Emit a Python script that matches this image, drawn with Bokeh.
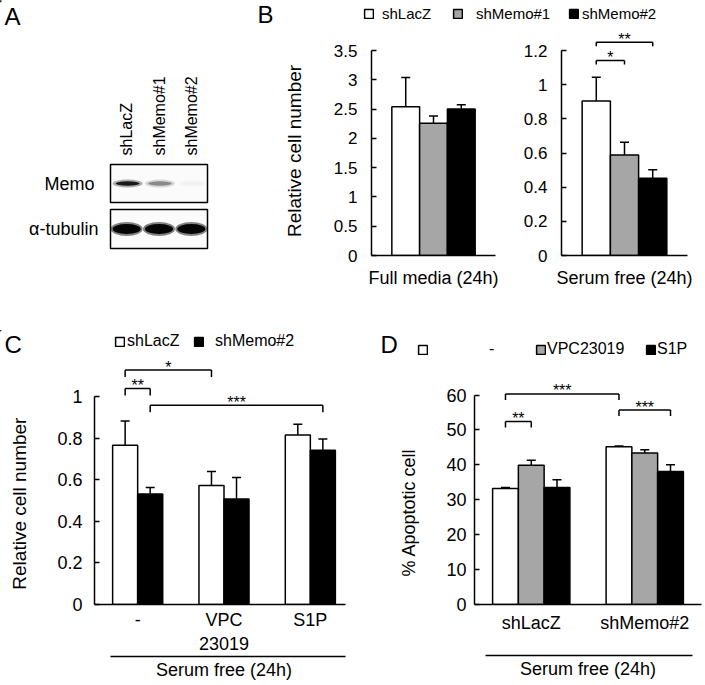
import math
from bokeh.plotting import figure
from bokeh.models import (ColumnDataSource, FactorRange, Range1d, CategoricalAxis,
                          FixedTicker, CustomJSTickFormatter, Whisker, TeeHead,
                          Legend, LegendItem)
from bokeh.transform import dodge
from bokeh.layouts import row, column
from bokeh.embed import file_html
from bokeh.resources import INLINE
from bokeh.core.properties import value

FONT = "Liberation Sans"
NB = "\u00a0"

# ---------------- data ----------------
# Panel A (western blot)
lanes = ["shLacZ", "shMemo#1", "shMemo#2"]
memo_intensity = [0.95, 0.40, 0.03]
tubulin_intensity = [1.0, 1.0, 1.0]

# Panel B
b_series = ["shLacZ", "shMemo#1", "shMemo#2"]
b_colors = ["white", "#a6a6a6", "black"]
b_full_label = ["Full media (24h)"]
b_full_mean = [2.54, 2.26, 2.50]
b_full_err = [0.50, 0.12, 0.075]
b_serum_label = ["Serum free (24h)"]
b_serum_mean = [0.905, 0.588, 0.452]
b_serum_err = [0.138, 0.075, 0.050]
b_full_ticks = [0, 0.5, 1, 1.5, 2, 2.5, 3, 3.5]
b_serum_ticks = [0, 0.2, 0.4, 0.6, 0.8, 1, 1.2]
b_sig_a = [0, 0]
b_sig_b = [1, 2]
b_sig_y = [1.142, 1.249]
b_sig_txt = ["*", "**"]

# Panel C
c_treat = ["-", "VPC\n23019", "S1P"]
c_series = ["shLacZ", "shMemo#2"]
c_colors = ["white", "black"]
c_lacz_mean = [0.766, 0.572, 0.815]
c_lacz_err = [0.116, 0.067, 0.052]
c_memo2_mean = [0.531, 0.507, 0.742]
c_memo2_err = [0.032, 0.104, 0.054]
c_ticks = [0, 0.2, 0.4, 0.6, 0.8, 1]
c_sig_a = [(0, 0), (0, 0), (0, 1)]
c_sig_b = [(0, 1), (1, 0), (2, 1)]
c_sig_y = [1.039, 1.127, 0.958]
c_sig_txt = ["**", "*", "***"]

# Panel D
d_cells = ["shLacZ", "shMemo#2"]
d_series = ["-", "VPC23019", "S1P"]
d_colors = ["white", "#a6a6a6", "black"]
d_none_mean = [33.2, 45.2]
d_none_err = [0.3, 0.2]
d_vpc_mean = [39.9, 43.4]
d_vpc_err = [1.4, 0.9]
d_s1p_mean = [33.5, 38.1]
d_s1p_err = [2.2, 1.9]
d_ticks = [0, 10, 20, 30, 40, 50, 60]
d_sig_a = [(0, 0), (0, 0), (1, 0)]
d_sig_b = [(0, 1), (1, 0), (1, 2)]
d_sig_y = [52.4, 60.3, 55.7]
d_sig_txt = ["**", "***", "***"]

# panel letters
panel_letters = ["A", "B", "C", "D"]


# ---------------- helpers ----------------
def mk(w, h, xr, yr, l, r, t, b, **kw):
    p = figure(width=w, height=h, x_range=xr, y_range=yr,
               min_border_left=l, min_border_right=r, min_border_top=t, min_border_bottom=b,
               output_backend="svg", toolbar_location=None, **kw)
    p.grid.visible = False
    p.outline_line_color = None
    p.background_fill_color = "white"
    p.border_fill_color = "white"
    return p


def strip(w, h, y0, y1):
    p = mk(w, h, Range1d(0, w), Range1d(y1, y0), 0, 0, 0, 0)
    p.xaxis.visible = False
    p.yaxis.visible = False
    return p


def style_y(ax, ticks, size, standoff, label=None, lsize="19px", lstand=20):
    ax.ticker = FixedTicker(ticks=ticks)
    ax.formatter = CustomJSTickFormatter(code="return String(Math.round(tick * 1000) / 1000);")
    ax.bounds = (ticks[0], ticks[-1])
    ax.major_tick_in = 5
    ax.major_tick_out = 0
    ax.minor_tick_line_color = None
    ax.axis_line_width = 1.5
    ax.axis_line_color = "black"
    ax.major_tick_line_width = 1.5
    ax.major_tick_line_color = "black"
    ax.major_label_text_font = FONT
    ax.major_label_text_font_size = size
    ax.major_label_text_color = "black"
    ax.major_label_standoff = standoff
    if label:
        ax.axis_label = label
        ax.axis_label_text_font = FONT
        ax.axis_label_text_font_size = lsize
        ax.axis_label_text_font_style = "normal"
        ax.axis_label_text_color = "black"
        ax.axis_label_standoff = lstand


def style_x(ax, size, standoff):
    ax.major_tick_line_color = None
    ax.minor_tick_line_color = None
    ax.major_tick_in = 0
    ax.major_tick_out = 0
    ax.axis_line_width = 1.5
    ax.axis_line_color = "black"
    ax.major_label_text_font = FONT
    ax.major_label_text_font_size = size
    ax.major_label_text_color = "black"
    ax.major_label_standoff = standoff


def grouped_bars(p, cats, means, errs, offsets, width, colors):
    for m, e, off, col in zip(means, errs, offsets, colors):
        src = ColumnDataSource(dict(cat=cats, top=m, up=[a + b for a, b in zip(m, e)]))
        p.vbar(x=dodge("cat", off, range=p.x_range), top="top", bottom=0, width=width,
               source=src, fill_color=col, line_color="black", line_width=1.5)
        p.add_layout(Whisker(source=src, base=dodge("cat", off, range=p.x_range),
                             upper="up", lower="top", dimension="height",
                             line_color="black", line_width=1.5,
                             upper_head=TeeHead(size=9, line_width=1.5, line_color="black"),
                             lower_head=None))


def brackets(p, a_list, b_list, ys, texts, offsets, drop, size="16px"):
    x0, y0, x1, y1, tx = [], [], [], [], []
    for (ca, sa), (cb, sb), y in zip(a_list, b_list, ys):
        xa = ca + 0.5 + offsets[sa]
        xb = cb + 0.5 + offsets[sb]
        x0 += [xa, xa, xb]
        y0 += [y, y, y]
        x1 += [xb, xa, xb]
        y1 += [y, y - drop, y - drop]
        tx.append((xa + xb) / 2)
    p.segment(x0=x0, y0=y0, x1=x1, y1=y1, line_color="black", line_width=1.5)
    p.text(x=tx, y=ys, text=texts, text_font=value(FONT), text_font_size=size,
           text_align="center", text_baseline="middle", y_offset=-3, text_color="black")


def key(p, color, label, dx, dy, standoff, size):
    # swatch renderer for the legend (its single bar lies outside the strip's view)
    r = p.vbar(x=[-50], top=[1], bottom=[0], width=1, fill_color=color,
               line_color="black", line_width=1.5)
    lg = Legend(items=[LegendItem(label=label, renderers=[r])], location=(dx, dy),
                orientation="horizontal", glyph_width=11, glyph_height=11,
                label_standoff=standoff, label_text_font=FONT, label_text_font_size=size,
                label_text_color="black", padding=0, margin=0, spacing=0,
                border_line_color=None, background_fill_alpha=0,
                label_height=11, label_width=5)
    p.add_layout(lg)


def letters(p, txts, xs, ys):
    p.text(x=xs, y=ys, text=txts, text_font=value(FONT), text_font_size="24px",
           text_color="black", text_baseline="top", text_align="left")


def group_axis(p, bounds):
    ax = CategoricalAxis(bounds=bounds, ticker=FixedTicker(ticks=[]),
                         axis_label="Serum free (24h)", axis_label_text_font=FONT,
                         axis_label_text_font_size="18px", axis_label_text_font_style="normal",
                         axis_label_text_color="black", axis_label_standoff=3,
                         major_tick_out=0, major_tick_in=0, major_tick_line_color=None,
                         minor_tick_line_color=None, major_label_standoff=0,
                         axis_line_width=1.5, axis_line_color="black")
    p.add_layout(ax, "below")


# ---------------- top strip: letters A / B and the panel B key ----------------
sTop = strip(705, 30, 0, 30)
letters(sTop, panel_letters[:2], [4, 257], [2, 0])
key(sTop, b_colors[0], b_series[0], 363, 8, 8, "15px")
key(sTop, b_colors[1], b_series[1], 452, 8, 13, "15px")
key(sTop, b_colors[2], b_series[2], 568, 8, 3, "15px")

# ---------------- Panel A ----------------
pA1 = mk(280, 175, FactorRange(*lanes), FactorRange("Memo"), 110, 73, 134, 3,
         x_axis_location="above")
pA1.outline_line_color = "black"
pA1.outline_line_width = 1.5
pA1.background_fill_color = "#fbfbfb"
style_x(pA1.xaxis[0], "16px", 9)
pA1.xaxis.axis_line_color = None
pA1.xaxis.major_label_orientation = math.pi / 2
style_x(pA1.yaxis[0], "18px", 16)
pA1.yaxis.axis_line_color = None
srcM = ColumnDataSource(dict(lane=lanes, y=["Memo"] * 3, a=memo_intensity,
                             a2=[v * 0.35 for v in memo_intensity]))
pA1.ellipse(x=dodge("lane", 0.03, range=pA1.x_range), y="y", width=30, height=8,
            width_units="screen", height_units="screen", source=srcM,
            fill_color="#111111", fill_alpha="a2", line_color=None)
pA1.ellipse(x=dodge("lane", 0.03, range=pA1.x_range), y="y", width=24, height=4.5,
            width_units="screen", height_units="screen", source=srcM,
            fill_color="#111111", fill_alpha="a", line_color=None)

pA2 = mk(280, 125, FactorRange(*lanes), FactorRange("\u03b1-tubulin"), 110, 73, 4, 82)
pA2.outline_line_color = "black"
pA2.outline_line_width = 1.5
pA2.background_fill_color = "#fbfbfb"
pA2.xaxis.visible = False
style_x(pA2.yaxis[0], "18px", 12)
pA2.yaxis.axis_line_color = None
srcT = ColumnDataSource(dict(lane=lanes, y=["\u03b1-tubulin"] * 3, a=tubulin_intensity,
                             a2=[v * 0.5 for v in tubulin_intensity]))
pA2.ellipse(x="lane", y="y", width=32, height=14, width_units="screen", height_units="screen",
            source=srcT, fill_color="#0a0a0a", fill_alpha="a2", line_color=None)
pA2.ellipse(x="lane", y="y", width=28, height=10, width_units="screen", height_units="screen",
            source=srcT, fill_color="#050505", fill_alpha="a", line_color=None)

# ---------------- Panel B ----------------
B_OFF = [-0.224, 0.0, 0.224]
yb1 = 3.5 * (255 - 30) / (255 - 50)
pB1 = mk(225, 300, FactorRange(*b_full_label), Range1d(0, yb1), 90, 10, 0, 75)
style_y(pB1.yaxis[0], b_full_ticks, "17px", 14, "Relative cell number" + NB * 3, "19px", 26)
style_x(pB1.xaxis[0], "18px", 12)
grouped_bars(pB1, b_full_label, [[v] for v in b_full_mean], [[v] for v in b_full_err],
             B_OFF, 0.224, b_colors)

yb2 = 1.2 * (255 - 30) / (255 - 50)
pB2 = mk(200, 300, FactorRange(*b_serum_label), Range1d(0, yb2), 56, 18, 0, 75)
style_y(pB2.yaxis[0], b_serum_ticks, "17px", 14)
style_x(pB2.xaxis[0], "18px", 12)
grouped_bars(pB2, b_serum_label, [[v] for v in b_serum_mean], [[v] for v in b_serum_err],
             B_OFF, 0.224, b_colors)
brackets(pB2, [(0, a) for a in b_sig_a], [(0, b) for b in b_sig_b], b_sig_y, b_sig_txt,
         B_OFF, 4 * 1.2 / 205)

# ---------------- strip with C / D letters and keys ----------------
sCD = strip(705, 30, 330, 360)
letters(sCD, panel_letters[2:], [4, 380], [330, 330.5])
key(sCD, c_colors[0], c_series[0], 114, 10, 2, "16px")
key(sCD, c_colors[1], c_series[1], 193, 10, 11, "16px")
key(sCD, d_colors[0], d_series[0], 417, 2, 61, "16px")
key(sCD, d_colors[1], d_series[1], 535, 2, 1, "16px")
key(sCD, d_colors[2], d_series[2], 645, 2, 1, "16px")

# ---------------- Panel C ----------------
C_OFF = [-0.145, 0.145]
yc = 1.0 * (604 - 360) / (604 - 396)
pC = mk(395, 325, FactorRange(*c_treat), Range1d(0, yc), 94, 42, 0, 81)
style_y(pC.yaxis[0], c_ticks, "18px", 12, "Relative cell number" + NB * 8, "19px", 24)
style_x(pC.xaxis[0], "18px", 5)
pC.xaxis[0].bounds = (0, 2.907)
group_axis(pC, (0.185, 2.907))
grouped_bars(pC, c_treat, [c_lacz_mean, c_memo2_mean], [c_lacz_err, c_memo2_err],
             C_OFF, 0.29, c_colors)
brackets(pC, c_sig_a, c_sig_b, c_sig_y, c_sig_txt, C_OFF, 7 / 208)

# ---------------- Panel D ----------------
D_OFF = [-0.227, 0.0, 0.227]
yd = 60 * (604 - 360) / (604 - 394.5)
pD = mk(310, 325, FactorRange(*d_cells), Range1d(0, yd), 79, 4, 0, 81)
style_y(pD.yaxis[0], d_ticks, "18px", 8, "% Apoptotic cell" + NB * 12, "18px", 24)
style_x(pD.xaxis[0], "18px", 8)
pD.xaxis[0].axis_label = NB
pD.xaxis[0].axis_label_text_font_size = "15px"
pD.xaxis[0].axis_label_standoff = 0
group_axis(pD, (0.097, 1.92))
grouped_bars(pD, d_cells, [d_none_mean, d_vpc_mean, d_s1p_mean],
             [d_none_err, d_vpc_err, d_s1p_err], D_OFF, 0.227, d_colors)
brackets(pD, d_sig_a, d_sig_b, d_sig_y, d_sig_txt, D_OFF, 6 * 60 / 209.5)

layout = column(
    sTop,
    row(column(pA1, pA2), pB1, pB2),
    sCD,
    row(pC, pD),
)

open("out.html", "w").write(file_html(layout, INLINE))
